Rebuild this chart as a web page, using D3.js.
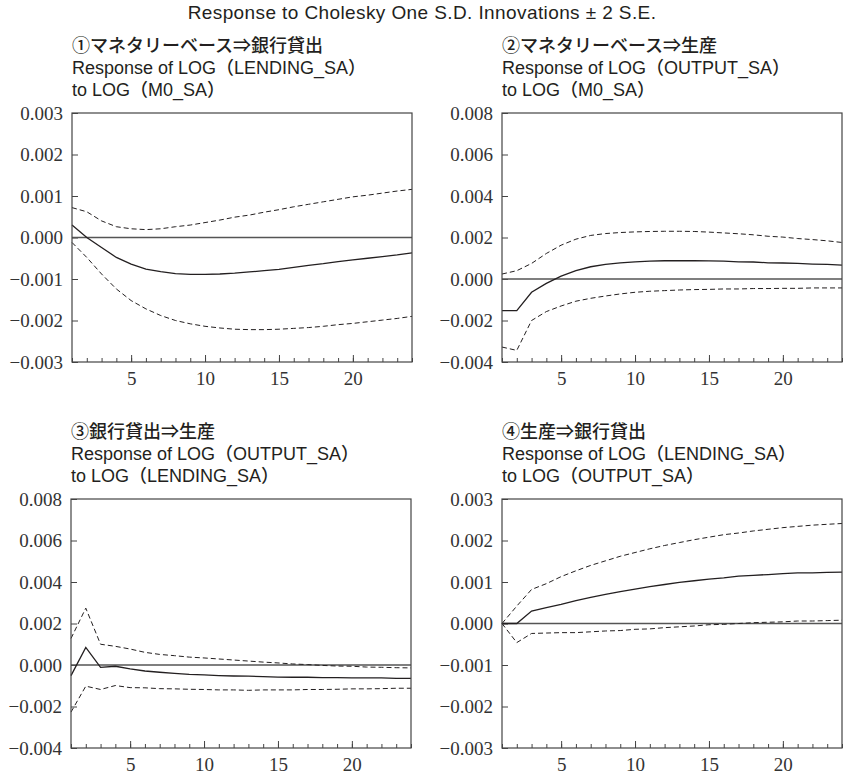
<!DOCTYPE html>
<html>
<head>
<meta charset="utf-8">
<script src="https://cdn.jsdelivr.net/npm/d3@7"></script>
<style>
body { margin: 0; background: #fff; }
</style>
</head>
<body>
<script>
// periods 1..24
const periods = [1, 2, 3, 4, 5, 6, 7, 8, 9, 10, 11, 12, 13, 14, 15, 16, 17, 18, 19, 20, 21, 22, 23, 24];
const xMajorTicks = [5, 10, 15, 20];

const mainTitle = "Response to Cholesky One S.D. Innovations \u00b1 2 S.E.";

// ① monetary base -> lending
const title1 = ["①マネタリーベース⇒銀行貸出", "Response of LOG（LENDING_SA）", "to LOG（M0_SA）"];
const yTicks1 = [-0.003, -0.002, -0.001, 0, 0.001, 0.002, 0.003];
const resp1 = [0.0003, 0.0000, -0.00024, -0.00048, -0.00064, -0.00076, -0.00082, -0.00087, -0.00089, -0.00089, -0.00088, -0.00086,
    -0.00083, -0.0008, -0.00077, -0.00072, -0.00067, -0.00063, -0.00058, -0.00054, -0.0005, -0.00046, -0.00042, -0.00037];
const upper1 = [0.00072, 0.00062, 0.0004, 0.00026, 0.00021, 0.00019, 0.00021, 0.00026, 0.0003, 0.00036, 0.00042, 0.00049,
    0.00054, 0.00061, 0.00067, 0.00074, 0.0008, 0.00086, 0.00092, 0.00098, 0.00102, 0.00107, 0.00112, 0.00116];
const lower1 = [-0.00012, -0.00048, -0.00088, -0.00124, -0.00152, -0.00172, -0.00188, -0.002, -0.00208, -0.00214, -0.00218, -0.00221,
    -0.00222, -0.00222, -0.00221, -0.00219, -0.00217, -0.00214, -0.0021, -0.00207, -0.00203, -0.00199, -0.00195, -0.0019];

// ② monetary base -> output
const title2 = ["②マネタリーベース⇒生産", "Response of LOG（OUTPUT_SA）", "to LOG（M0_SA）"];
const yTicks2 = [-0.004, -0.002, 0, 0.002, 0.004, 0.006, 0.008];
const resp2 = [-0.00152, -0.00152, -0.00064, -0.00021, 0.00014, 0.0004, 0.00059, 0.0007, 0.00078, 0.00083, 0.00086, 0.00088,
    0.00088, 0.00088, 0.00087, 0.00086, 0.00083, 0.00082, 0.00078, 0.00077, 0.00075, 0.00072, 0.0007, 0.00067];
const upper2 = [0.00024, 0.0004, 0.00075, 0.00123, 0.00163, 0.00192, 0.0021, 0.00219, 0.00224, 0.00227, 0.00229, 0.0023,
    0.0023, 0.00229, 0.00226, 0.00222, 0.00218, 0.00213, 0.00206, 0.00202, 0.00195, 0.0019, 0.00184, 0.00176];
const lower2 = [-0.00328, -0.00344, -0.002, -0.00157, -0.0013, -0.00107, -0.00093, -0.00082, -0.00072, -0.00064, -0.00059, -0.00056,
    -0.00053, -0.00051, -0.0005, -0.00048, -0.00048, -0.00046, -0.00046, -0.00045, -0.00045, -0.00043, -0.00043, -0.00043];

// ③ lending -> output
const title3 = ["③銀行貸出⇒生産", "Response of LOG（OUTPUT_SA）", "to LOG（LENDING_SA）"];
const yTicks3 = [-0.004, -0.002, 0, 0.002, 0.004, 0.006, 0.008];
const resp3 = [-0.00051, 0.00085, -0.00011, -0.00006, -0.00019, -0.00029, -0.00035, -0.0004, -0.00045, -0.00048, -0.00051, -0.00053,
    -0.00054, -0.00056, -0.00058, -0.00059, -0.00059, -0.00061, -0.00061, -0.00062, -0.00062, -0.00062, -0.00064, -0.00064];
const upper3 = [0.00128, 0.00274, 0.001, 0.0009, 0.00077, 0.00061, 0.00051, 0.00045, 0.00038, 0.00034, 0.00029, 0.00024,
    0.00019, 0.00014, 0.0001, 0.00005, 0.00002, -0.00002, -0.00005, -0.00006, -0.0001, -0.00011, -0.00013, -0.00014];
const lower3 = [-0.00227, -0.00102, -0.00118, -0.00099, -0.00109, -0.0011, -0.00114, -0.00115, -0.00117, -0.00118, -0.0012, -0.0012,
    -0.00122, -0.0012, -0.0012, -0.0012, -0.00118, -0.00118, -0.00117, -0.00115, -0.00115, -0.00114, -0.00112, -0.00112];

// ④ output -> lending
const title4 = ["④生産⇒銀行貸出", "Response of LOG（LENDING_SA）", "to LOG（OUTPUT_SA）"];
const yTicks4 = [-0.003, -0.002, -0.001, 0, 0.001, 0.002, 0.003];
const resp4 = [0, 0, 0.0003, 0.00038, 0.00046, 0.00055, 0.00063, 0.0007, 0.00077, 0.00083, 0.00089, 0.00094,
    0.00099, 0.00103, 0.00107, 0.0011, 0.00114, 0.00116, 0.00118, 0.0012, 0.00122, 0.00122, 0.00123, 0.00124];
const upper4 = [0, 0.00042, 0.00082, 0.00096, 0.00113, 0.00127, 0.0014, 0.00151, 0.00162, 0.00171, 0.0018, 0.00188,
    0.00195, 0.00202, 0.00208, 0.00214, 0.00218, 0.00223, 0.00227, 0.00231, 0.00234, 0.00237, 0.00239, 0.00241];
const lower4 = [0, -0.00046, -0.00024, -0.00023, -0.00022, -0.00022, -0.0002, -0.00018, -0.00017, -0.00014, -0.00013, -0.0001,
    -0.00008, -0.00006, -0.00003, -0.00002, 0, 0.00002, 0.00003, 0.00004, 0.00006, 0.00006, 0.00007, 0.00008];

const W = 844, H = 775;
const ink = "#231f20";
const sansFont = "'Liberation Sans', 'Noto Sans CJK JP', sans-serif";
const serifFont = "'Liberation Serif', 'DejaVu Serif', serif";

const panels = [
    { title: title1, ticks: yTicks1, resp: resp1, upper: upper1, lower: lower1, left: 72, top: 113 },
    { title: title2, ticks: yTicks2, resp: resp2, upper: upper2, lower: lower2, left: 502, top: 113 },
    { title: title3, ticks: yTicks3, resp: resp3, upper: upper3, lower: lower3, left: 71, top: 499 },
    { title: title4, ticks: yTicks4, resp: resp4, upper: upper4, lower: lower4, left: 502, top: 499 },
];
const pw = 340, ph = 249;

const svg = d3.select("body").append("svg")
    .attr("width", W)
    .attr("height", H);

svg.append("text")
    .attr("x", 422)
    .attr("y", 19)
    .attr("text-anchor", "middle")
    .attr("font-family", sansFont)
    .attr("font-size", 19)
    .attr("letter-spacing", 0.4)
    .attr("fill", ink)
    .text(mainTitle);

const fmt = d3.format(".3f");

panels.forEach(p => {
    const g = svg.append("g").attr("transform", `translate(${p.left}, ${p.top})`);

    const x = d3.scaleLinear().domain([1, 24]).range([0, pw]);
    const y = d3.scaleLinear().domain(d3.extent(p.ticks)).range([ph, 0]);

    // subtitle, 3 lines
    g.append("text")
        .attr("font-family", sansFont)
        .attr("font-size", 18)
        .attr("font-weight", 500)
        .attr("fill", ink)
        .selectAll("tspan")
        .data(p.title)
        .enter()
        .append("tspan")
        .attr("x", 0)
        .attr("y", (d, i) => -61 + i * 22)
        .text(d => d);

    // y axis - ticks point inward
    const yAxis = g.append("g")
        .call(d3.axisLeft(y).tickValues(p.ticks).tickSize(-6).tickPadding(9).tickFormat(fmt));
    yAxis.select(".domain").remove();
    yAxis.selectAll("line").attr("stroke", "#444");
    yAxis.selectAll("text")
        .attr("font-family", serifFont)
        .attr("font-size", 19)
        .attr("fill", "#333");

    // x axis minor ticks at each period
    const xMinor = g.append("g")
        .attr("transform", `translate(0, ${ph})`)
        .call(d3.axisBottom(x).tickValues(periods).tickSize(-4).tickFormat(""));
    xMinor.select(".domain").remove();
    xMinor.selectAll("line").attr("stroke", "#444");

    const xAxis = g.append("g")
        .attr("transform", `translate(0, ${ph})`)
        .call(d3.axisBottom(x).tickValues(xMajorTicks).tickSize(-7).tickPadding(10));
    xAxis.select(".domain").remove();
    xAxis.selectAll("line").attr("stroke", "#444");
    xAxis.selectAll("text")
        .attr("font-family", serifFont)
        .attr("font-size", 19)
        .attr("fill", "#333");

    // zero line
    g.append("line")
        .attr("x1", 0).attr("x2", pw)
        .attr("y1", y(0)).attr("y2", y(0))
        .attr("stroke", "#555")
        .attr("stroke-width", 1.3);

    const line = d3.line()
        .x((d, i) => x(periods[i]))
        .y(d => y(d));

    [p.upper, p.lower].forEach(band => {
        g.append("path")
            .datum(band)
            .attr("fill", "none")
            .attr("stroke", ink)
            .attr("stroke-width", 1)
            .attr("stroke-dasharray", "5,3")
            .attr("d", line);
    });

    g.append("path")
        .datum(p.resp)
        .attr("fill", "none")
        .attr("stroke", ink)
        .attr("stroke-width", 1.3)
        .attr("d", line);

    // frame
    g.append("rect")
        .attr("width", pw)
        .attr("height", ph)
        .attr("fill", "none")
        .attr("stroke", "#444")
        .attr("stroke-width", 1.2);
});
</script>
</body>
</html>
